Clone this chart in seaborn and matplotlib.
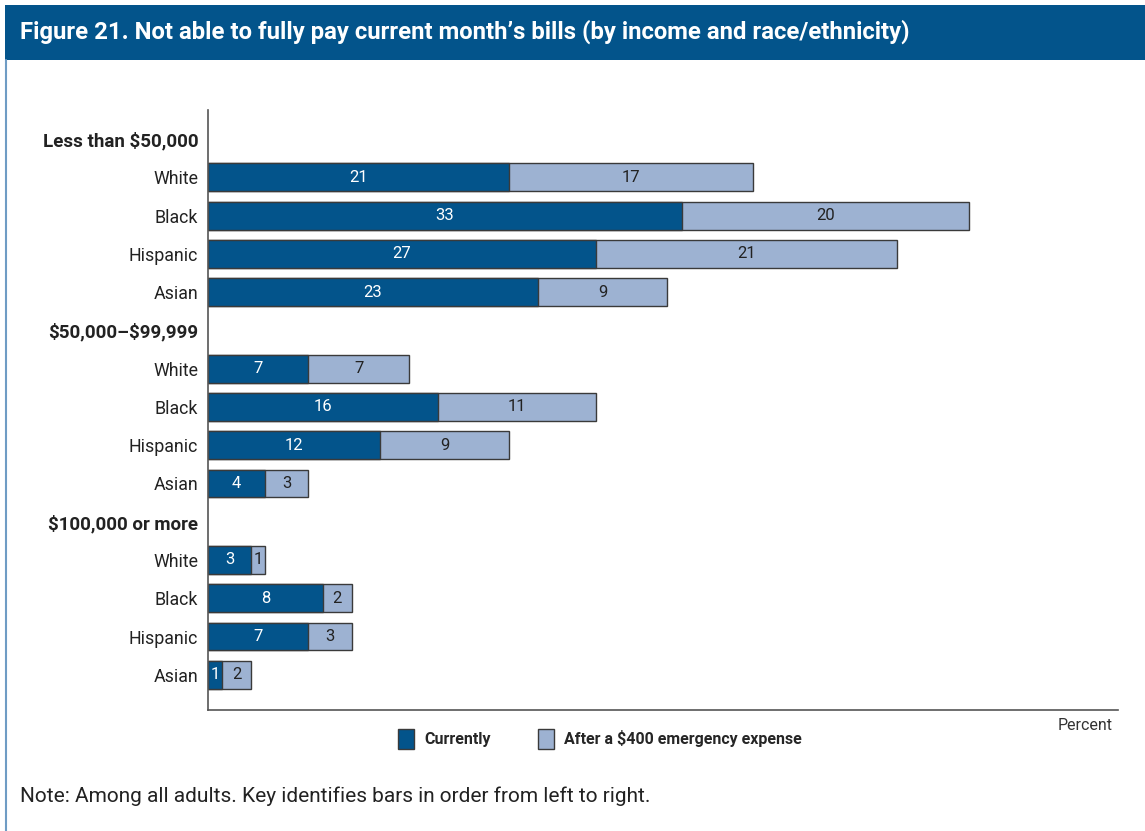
import numpy as np
import pandas as pd
import matplotlib.pyplot as plt
import seaborn as sns
from matplotlib.patches import Patch, Rectangle
from matplotlib.lines import Line2D

groups = ['Less than $50,000', '$50,000\u2013$99,999', '$100,000 or more']
races = ['White', 'Black', 'Hispanic', 'Asian']
currently = [[21, 33, 27, 23], [7, 16, 12, 4], [3, 8, 7, 1]]
after_400 = [[17, 20, 21, 9], [7, 11, 9, 3], [1, 2, 3, 2]]

dark = '#03548B'
light = '#9DB2D2'
edge = '#3a3a3a'

sns.set_theme(style='white')
plt.rcParams['font.family'] = ['Roboto', 'DejaVu Sans']
plt.rcParams['text.parse_math'] = False

# one row per header and per race, headers have no bars
rows = []
for g, cur, aft in zip(groups, currently, after_400):
    rows.append({'label': g, 'header': True, 'current': np.nan, 'after': np.nan})
    for r, c, a in zip(races, cur, aft):
        rows.append({'label': r, 'header': False, 'current': c, 'after': a})
df = pd.DataFrame(rows)
df['row'] = np.arange(len(df))
df['total'] = df['current'] + df['after']

fig = plt.figure(figsize=(11.45, 8.31), dpi=100)
ax = fig.add_axes([208 / 1145, 1 - 710 / 831, 910 / 1145, 600 / 831])

bars = df.dropna(subset=['current'])
sns.barplot(data=bars, x='total', y='row', orient='y', native_scale=True,
            color=light, saturation=1, width=0.73, edgecolor=edge, linewidth=1, ax=ax)
sns.barplot(data=bars, x='current', y='row', orient='y', native_scale=True,
            color=dark, saturation=1, width=0.73, edgecolor=edge, linewidth=1, ax=ax)

for _, b in bars.iterrows():
    ax.text(b['current'] / 2, b['row'], f"{int(b['current'])}", color='white',
            ha='center', va='center', fontsize=12)
    ax.text(b['current'] + b['after'] / 2, b['row'], f"{int(b['after'])}", color='#222222',
            ha='center', va='center', fontsize=12)

ax.set_xlim(0, 63.4)
ax.set_ylim(len(df) - 1 + 0.92, -0.76)
ax.set_yticks(df['row'])
ax.set_yticklabels(df['label'])
for lab, h in zip(ax.get_yticklabels(), df['header']):
    lab.set_color('#222222')
    if h:
        lab.set_fontweight('bold')
        lab.set_fontsize(13.5)
    else:
        lab.set_fontsize(12.8)
ax.tick_params(axis='y', length=0, pad=7)
ax.set_xticks([])
ax.set_xlabel('')
ax.set_ylabel('')
for s in ['top', 'right']:
    ax.spines[s].set_visible(False)
for s in ['left', 'bottom']:
    ax.spines[s].set_color('#555555')
    ax.spines[s].set_linewidth(1.2)

# title banner and frame
fig.patches.append(Rectangle((5 / 1145, 1 - 60 / 831), 1, 55 / 831, transform=fig.transFigure,
                             facecolor=dark, edgecolor='none', zorder=0))
fig.lines.append(Line2D([5.5 / 1145, 5.5 / 1145], [0, 1 - 60 / 831], transform=fig.transFigure,
                        color='#6f9cc4', linewidth=1.5))
fig.text(20 / 1145, 1 - 32 / 831, 'Figure 21. Not able to fully pay current month\u2019s bills (by income and race/ethnicity)',
         color='white', fontsize=17.2, fontweight='bold', ha='left', va='center')

fig.text(1113 / 1145, 1 - 726 / 831, 'Percent', ha='right', va='center', fontsize=11.5, color='#333333')

handles = [Patch(facecolor=dark, edgecolor=edge), Patch(facecolor=light, edgecolor=edge)]
fig.legend(handles, ['Currently', 'After a $400 emergency expense'], loc='center left',
           bbox_to_anchor=(384 / 1145, 1 - 739 / 831), ncol=2, frameon=False,
           prop={'weight': 'bold', 'size': 11.5}, handlelength=1.0, handleheight=1.5,
           handletextpad=0.65, columnspacing=2.9)

fig.text(20 / 1145, 1 - 796 / 831, 'Note: Among all adults. Key identifies bars in order from left to right.',
         ha='left', va='center', fontsize=15, color='#222222')

fig.savefig('out.png', dpi=100)
